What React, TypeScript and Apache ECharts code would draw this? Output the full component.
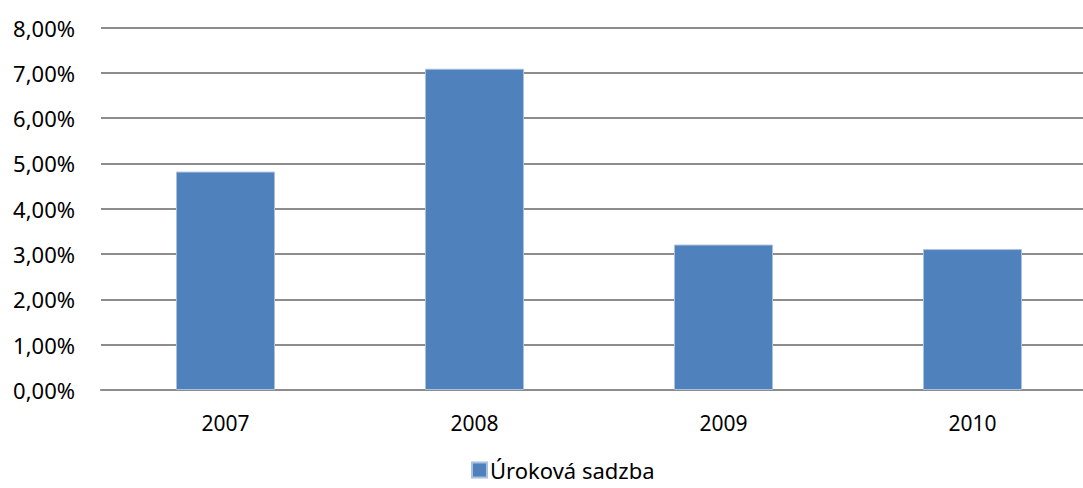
import React, { useEffect, useRef } from "react";
import * as echarts from "echarts";

const categories = ["2007", "2008", "2009", "2010"];
const rates = [4.82, 7.09, 3.21, 3.11];
const seriesName = "Úroková sadzba";

export default function App() {
  const ref = useRef<HTMLDivElement>(null);
  useEffect(() => {
    const chart = echarts.init(ref.current!, null, { renderer: "svg" });
    const font = "'Noto Sans', 'Liberation Sans', sans-serif";
    chart.setOption({
      animation: false,
      textStyle: { fontFamily: font },
      grid: { left: 101, top: 27.5, width: 996, height: 362.5, containLabel: false },
      legend: {
        data: [seriesName],
        left: 466,
        top: 454,
        itemWidth: 15,
        itemHeight: 15,
        itemGap: 6,
        icon: "rect",
        textStyle: { fontFamily: font, fontSize: 22, color: "#000", padding: [0, 0, 0, -2] },
      },
      xAxis: {
        type: "category",
        data: categories,
        axisLine: { show: true, lineStyle: { color: "#8c8c8c", width: 2 } },
        axisTick: { show: false },
        axisLabel: { margin: 22, fontSize: 21, color: "#000", fontFamily: font },
      },
      yAxis: {
        type: "value",
        min: 0,
        max: 8,
        interval: 1,
        axisLine: { show: false },
        axisTick: { show: false },
        splitLine: { lineStyle: { color: "#8c8c8c", width: 2 } },
        axisLabel: {
          margin: 26,
          fontSize: 22,
          color: "#000",
          fontFamily: font,
          formatter: (v: number) => v.toFixed(2).replace(".", ",") + "%",
        },
      },
      series: [
        {
          name: seriesName,
          type: "bar",
          data: rates,
          barWidth: 99,
          itemStyle: { color: "#4F81BD", borderColor: "#a9c0de", borderWidth: 1 },
        },
      ],
    });
    return () => chart.dispose();
  }, []);
  return (
    <div
      ref={ref}
      style={{ position: "fixed", left: 0, top: 0, width: 1100, height: 488, background: "#fff" }}
    />
  );
}
